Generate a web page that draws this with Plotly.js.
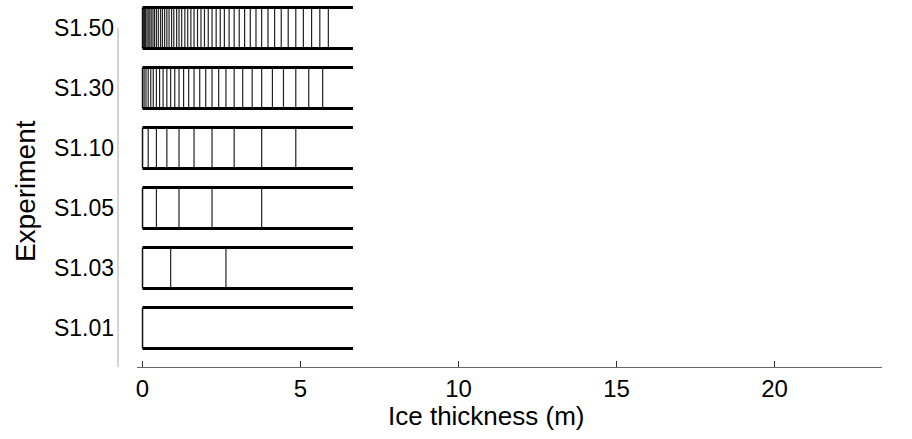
<!DOCTYPE html>
<html>
<head>
<meta charset="utf-8">
<script src="https://cdn.plot.ly/plotly-3.0.1.min.js"></script>
<style>html,body{margin:0;padding:0;background:#fff;}</style>
</head>
<body>
<div id="chart" style="width:912px;height:439px;"></div>
<script>
// Experiments (bottom to top)
var experiments = ['S1.01', 'S1.03', 'S1.05', 'S1.10', 'S1.30', 'S1.50'];

// Ice-thickness category boundaries (m)
var bounds_S101 = [];
var bounds_S103 = [0.89, 2.64];
var bounds_S105 = [0.44, 1.155, 2.20, 3.77];
var bounds_S110 = [0.18, 0.44, 0.77, 1.155, 1.63, 2.20, 2.90, 3.77, 4.85];
var bounds_S130 = [0.05, 0.11, 0.18, 0.26, 0.34, 0.44, 0.54, 0.65, 0.77, 0.89,
                   1.02, 1.155, 1.30, 1.46, 1.63, 1.81, 2.00, 2.20, 2.41, 2.64,
                   2.90, 3.17, 3.47, 3.77, 4.11, 4.46, 4.85, 5.26, 5.70];
var bounds_S150 = [0.025, 0.06, 0.095, 0.14, 0.18, 0.23, 0.275, 0.33, 0.38, 0.44,
                   0.50, 0.57, 0.63, 0.70, 0.77, 0.84, 0.92, 0.99, 1.08, 1.155,
                   1.24, 1.34, 1.43, 1.53, 1.63, 1.74, 1.85, 1.96, 2.08, 2.20,
                   2.33, 2.46, 2.59, 2.74, 2.90, 3.06, 3.23, 3.41, 3.59, 3.77,
                   3.97, 4.18, 4.39, 4.61, 4.85, 5.09, 5.35, 5.61, 5.88];
var allBounds = [bounds_S101, bounds_S103, bounds_S105, bounds_S110, bounds_S130, bounds_S150];

// thickness range covered by each experiment's box
var minThickness = 0;
var maxThickness = 6.66;

// x-axis ticks
var xTicks = [0, 5, 10, 15, 20];

// ---- build traces ----
var half = 0.34;
var vx = [], vy = [], ex = [], ey = [], hx = [], hy = [];
for (var i = 0; i < experiments.length; i++) {
  var b = allBounds[i];
  for (var j = 0; j < b.length; j++) {
    vx.push(b[j], b[j], null);
    vy.push(i - half, i + half, null);
  }
  ex.push(minThickness, minThickness, null);
  ey.push(i - half, i + half, null);
  hx.push(minThickness, maxThickness, null, minThickness, maxThickness, null);
  hy.push(i + half, i + half, null, i - half, i - half, null);
}

var traces = [
  {x: vx, y: vy, mode: 'lines', line: {color: '#222', width: 1.2}, hoverinfo: 'skip', showlegend: false},
  {x: ex, y: ey, mode: 'lines', line: {color: '#111', width: 1.5}, hoverinfo: 'skip', showlegend: false},
  {x: hx, y: hy, mode: 'lines', line: {color: '#000', width: 3}, hoverinfo: 'skip', showlegend: false}
];

var fontFam = 'Liberation Sans, Arial, sans-serif';
var layout = {
  width: 912, height: 439,
  margin: {l: 118, r: 30, t: 5, b: 72},
  paper_bgcolor: '#fff', plot_bgcolor: '#fff',
  font: {family: fontFam, color: '#000', size: 22},
  showlegend: false,
  xaxis: {
    domain: [0.0249, 1],
    range: [-0.174, 23.4],
    tickvals: xTicks,
    ticktext: xTicks.map(String),
    ticks: 'inside', ticklen: 6, tickcolor: '#333', tickwidth: 1,
    showline: true, linecolor: '#666', linewidth: 1,
    showgrid: false, zeroline: false,
    tickfont: {size: 24, family: fontFam, color: '#000'},
    ticklabelstandoff: 0
  },
  yaxis: {
    anchor: 'free', position: 0,
    range: [-0.65, 5.383],
    tickvals: experiments.map(function(e, i){ return i; }),
    ticktext: experiments,
    ticks: '', showline: false, showgrid: false, zeroline: false,
    tickfont: {size: 23, family: fontFam, color: '#000'},
    ticklabelstandoff: 4
  },
  shapes: [
    {type: 'line', xref: 'paper', yref: 'paper', x0: 0, x1: 0, y0: 0, y1: 0.9365,
     line: {color: '#aaa', width: 1}}
  ],
  annotations: [
    {text: 'Ice thickness (m)', xref: 'x', yref: 'paper', x: 10.87, y: -0.135,
     xanchor: 'center', yanchor: 'middle', showarrow: false,
     font: {size: 26, family: fontFam, color: '#000'}},
    {text: 'Experiment', xref: 'paper', yref: 'paper', x: -0.1217, y: 0.486,
     xanchor: 'center', yanchor: 'middle', textangle: -90, showarrow: false,
     font: {size: 28, family: fontFam, color: '#000'}}
  ]
};

Plotly.newPlot('chart', traces, layout, {displayModeBar: false, staticPlot: true});
</script>
</body>
</html>
